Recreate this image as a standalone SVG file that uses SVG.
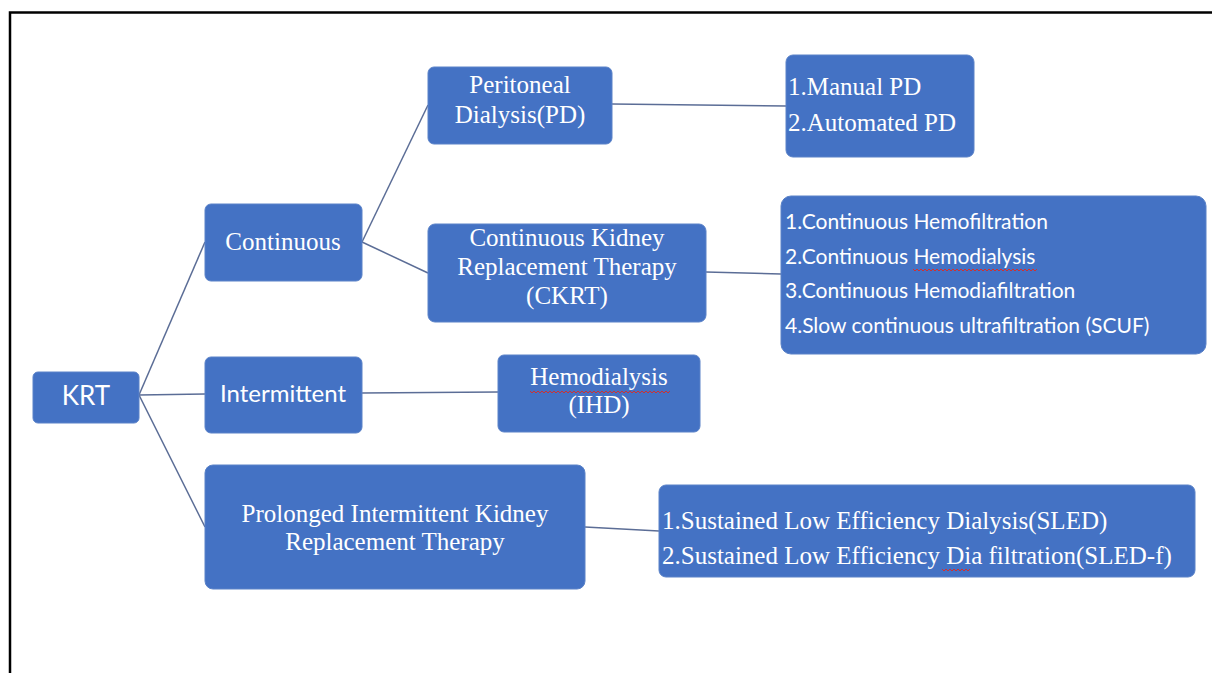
<svg xmlns="http://www.w3.org/2000/svg" width="1212" height="673" viewBox="0 0 1212 673">
<style>
.box{fill:#4472c4;stroke:#5a82c8;stroke-width:1}
.ser{font-family:"Liberation Serif","Times New Roman",serif;font-size:25px;fill:#ffffff}
.san{font-family:Lato,"Liberation Sans",sans-serif;font-size:21px;fill:#ffffff}
.mid{text-anchor:middle}
.con{stroke:#5b6d96;stroke-width:1.5;fill:none}
.sq{stroke:#d03030;stroke-width:1;fill:none}
</style>
<rect width="1212" height="673" fill="#ffffff"/>
<path d="M10,673 V12.5 H1212" fill="none" stroke="#000" stroke-width="2.5"/>
<g id="connectors">
<line class="con" x1="139" y1="395" x2="205" y2="242"/>
<line class="con" x1="139" y1="395" x2="205" y2="394"/>
<line class="con" x1="139" y1="395" x2="205" y2="527"/>
<line class="con" x1="362" y1="242" x2="428" y2="105"/>
<line class="con" x1="362" y1="242" x2="428" y2="273"/>
<line class="con" x1="612" y1="104" x2="786" y2="106"/>
<line class="con" x1="706" y1="272" x2="781" y2="274"/>
<line class="con" x1="362" y1="393" x2="498" y2="392"/>
<line class="con" x1="585" y1="527" x2="659" y2="531"/>
</g>
<g id="krt">
<rect class="box" x="33" y="372" width="106" height="51" rx="5"/>
<text class="san mid" x="86" y="405" style="font-size:26px">KRT</text>
</g>
<g id="continuous">
<rect class="box" x="205" y="204" width="157" height="77" rx="6"/>
<text class="ser mid" x="283" y="250">Continuous</text>
</g>
<g id="intermittent">
<rect class="box" x="205" y="357" width="157" height="76" rx="6"/>
<text class="san mid" x="283" y="402" style="font-size:24px">Intermittent</text>
</g>
<g id="prolonged">
<rect class="box" x="205" y="465" width="380" height="124" rx="8"/>
<text class="ser mid" x="395" y="522">Prolonged Intermittent Kidney</text>
<text class="ser mid" x="395" y="550">Replacement Therapy</text>
</g>
<g id="pd">
<rect class="box" x="428" y="67" width="184" height="77" rx="6"/>
<text class="ser mid" x="520" y="93">Peritoneal</text>
<text class="ser mid" x="520" y="123">Dialysis(PD)</text>
</g>
<g id="ckrt">
<rect class="box" x="428" y="224" width="278" height="98" rx="7"/>
<text class="ser mid" x="567" y="246">Continuous Kidney</text>
<text class="ser mid" x="567" y="275">Replacement Therapy</text>
<text class="ser mid" x="567" y="304">(CKRT)</text>
</g>
<g id="ihd">
<rect class="box" x="498" y="355" width="202" height="77" rx="6"/>
<text class="ser mid" x="599" y="385">Hemodialysis</text>
<text class="ser mid" x="599" y="413">(IHD)</text>
<path class="sq" d="M530,391 l2,2 l2,-2 l2,2 l2,-2 l2,2 l2,-2 l2,2 l2,-2 l2,2 l2,-2 l2,2 l2,-2 l2,2 l2,-2 l2,2 l2,-2 l2,2 l2,-2 l2,2 l2,-2 l2,2 l2,-2 l2,2 l2,-2 l2,2 l2,-2 l2,2 l2,-2 l2,2 l2,-2 l2,2 l2,-2 l2,2 l2,-2 l2,2 l2,-2 l2,2 l2,-2 l2,2 l2,-2 l2,2 l2,-2 l2,2 l2,-2 l2,2 l2,-2 l2,2 l2,-2 l2,2 l2,-2 l2,2 l2,-2 l2,2 l2,-2 l2,2 l2,-2 l2,2 l2,-2 l2,2 l2,-2 l2,2 l2,-2 l2,2 l2,-2 l2,2 l2,-2 l2,2 l2,-2 l2,2 l2,-2"/>
</g>
<g id="pd-types">
<rect class="box" x="786" y="55" width="188" height="102" rx="7"/>
<text class="ser" x="788" y="95">1.Manual PD</text>
<text class="ser" x="788" y="131">2.Automated PD</text>
</g>
<g id="ckrt-types">
<rect class="box" x="781" y="196" width="425" height="158" rx="10"/>
<text class="san" x="785" y="229">1.Continuous Hemofiltration</text>
<text class="san" x="785" y="264">2.Continuous Hemodialysis</text>
<path class="sq" d="M913,269 l2,2 l2,-2 l2,2 l2,-2 l2,2 l2,-2 l2,2 l2,-2 l2,2 l2,-2 l2,2 l2,-2 l2,2 l2,-2 l2,2 l2,-2 l2,2 l2,-2 l2,2 l2,-2 l2,2 l2,-2 l2,2 l2,-2 l2,2 l2,-2 l2,2 l2,-2 l2,2 l2,-2 l2,2 l2,-2 l2,2 l2,-2 l2,2 l2,-2 l2,2 l2,-2 l2,2 l2,-2 l2,2 l2,-2 l2,2 l2,-2 l2,2 l2,-2 l2,2 l2,-2 l2,2 l2,-2 l2,2 l2,-2 l2,2 l2,-2 l2,2 l2,-2 l2,2 l2,-2 l2,2 l2,-2 l2,2 l2,-2"/>
<text class="san" x="785" y="298">3.Continuous Hemodiafiltration</text>
<text class="san" x="785" y="333">4.Slow continuous ultrafiltration (SCUF)</text>
</g>
<g id="sled-types">
<rect class="box" x="659" y="485" width="536" height="92" rx="7"/>
<text class="ser" x="662" y="529">1.Sustained Low Efficiency Dialysis(SLED)</text>
<text class="ser" x="662" y="564">2.Sustained Low Efficiency Dia filtration(SLED-f)</text>
<path class="sq" d="M942,569 l2,2 l2,-2 l2,2 l2,-2 l2,2 l2,-2 l2,2 l2,-2 l2,2 l2,-2 l2,2 l2,-2 l2,2 l2,-2"/>
</g>
</svg>
